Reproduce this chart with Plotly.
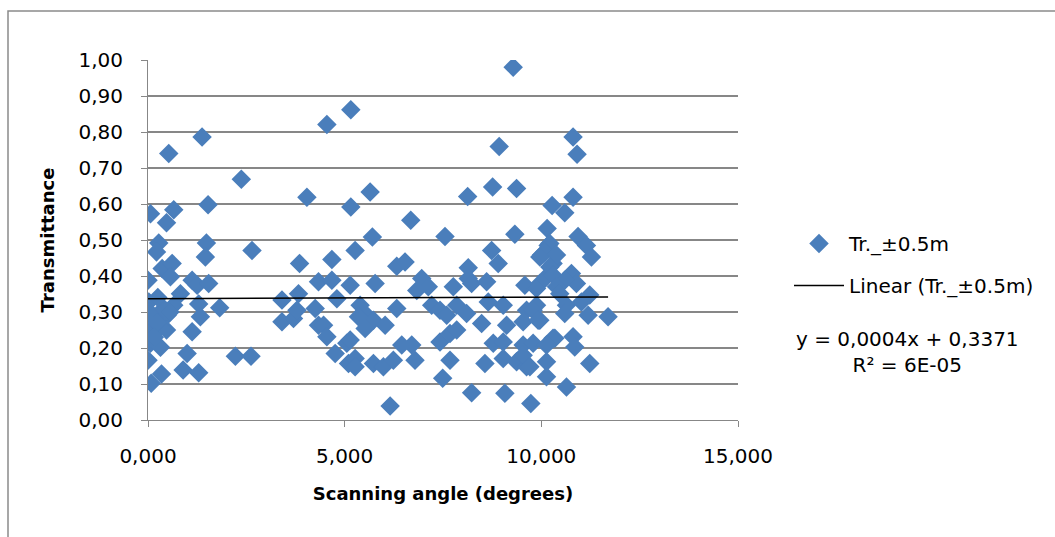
import plotly.graph_objects as go

# Scanning angle (degrees) and measured transmittance for each sample
angle_deg = [
    0.063, 0.528, 0.655, 0.470, 0.274, 0.216, 1.375, 1.527, 1.485, 1.459,
    2.373, 2.644, 3.853, 4.040, 4.548, 4.675, 5.157, 5.157,
    0.000, 0.360, 0.614, 0.571, 1.122, 1.249, 1.543, 0.825, 0.020, 0.655,
    1.289, 1.822, 0.148, 0.487, 1.332, 0.107, 0.470, 1.122, 0.020, 0.317,
    0.063, 0.317, 0.995, 0.000, 0.893, 1.289, 0.343, 0.081, 2.221, 2.619,
    3.406, 3.406, 3.700, 3.787, 3.827, 4.251, 4.335, 4.675, 4.802, 4.335,
    4.463, 4.548, 4.759, 5.055, 5.097,
    0.040, 0.400, 0.230, 0.160, 0.560, 0.250,
    9.284, 8.929, 5.647, 6.680, 8.127, 8.761, 9.370, 10.274, 5.705, 7.551,
    9.327, 10.147, 10.807, 10.909, 10.807, 10.596, 10.934,
    5.266, 6.324, 6.535, 8.142, 8.736, 8.904, 10.005, 10.172, 10.299,
    5.140, 5.774, 6.959, 7.127, 6.832, 7.762, 8.142, 8.228, 8.609, 9.581,
    9.962, 10.132,
    5.393, 5.477, 6.324, 7.213, 7.424, 7.594, 7.848, 8.101, 8.650, 9.031,
    9.624, 9.878,
    5.731, 6.028, 8.482, 9.117, 9.538, 9.962,
    5.140, 5.520, 6.452, 6.705, 7.424, 7.678, 7.848, 8.777, 9.031, 9.538,
    9.792, 10.299,
    5.266, 5.266, 5.731, 5.985, 6.239, 6.789, 7.678, 8.566, 9.031, 9.370,
    9.624, 10.132, 10.132, 7.492, 6.155, 8.228, 9.073, 9.733, 5.351,
    11.147, 11.274, 10.215, 10.089, 10.385, 9.962, 10.215, 10.299, 10.766,
    10.893, 10.596, 10.385, 9.878, 10.469, 11.231, 11.020, 10.639, 10.596,
    11.189, 11.697, 9.792, 9.919, 10.343, 10.807, 10.850, 10.132, 9.538,
    9.708, 11.231, 10.639,
]
transmittance = [
    0.573, 0.740, 0.584, 0.548, 0.492, 0.467, 0.786, 0.598, 0.492, 0.453,
    0.669, 0.471, 0.435, 0.619, 0.821, 0.446, 0.862, 0.592,
    0.388, 0.421, 0.435, 0.398, 0.388, 0.374, 0.379, 0.351, 0.328, 0.319,
    0.322, 0.312, 0.287, 0.291, 0.287, 0.263, 0.250, 0.245, 0.240, 0.259,
    0.213, 0.202, 0.185, 0.166, 0.139, 0.131, 0.128, 0.102, 0.177, 0.177,
    0.333, 0.273, 0.282, 0.305, 0.351, 0.310, 0.384, 0.388, 0.337, 0.263,
    0.263, 0.231, 0.185, 0.213, 0.157,
    0.300, 0.310, 0.270, 0.230, 0.300, 0.340,
    0.980, 0.760, 0.633, 0.555, 0.621, 0.647, 0.643, 0.596, 0.508, 0.510,
    0.516, 0.532, 0.786, 0.738, 0.619, 0.576, 0.510,
    0.471, 0.427, 0.439, 0.423, 0.471, 0.435, 0.458, 0.485, 0.435,
    0.374, 0.379, 0.393, 0.370, 0.360, 0.370, 0.393, 0.379, 0.384, 0.374,
    0.379, 0.398,
    0.319, 0.300, 0.310, 0.319, 0.305, 0.291, 0.319, 0.296, 0.328, 0.319,
    0.305, 0.319,
    0.277, 0.263, 0.268, 0.263, 0.273, 0.277,
    0.222, 0.254, 0.208, 0.208, 0.217, 0.240, 0.250, 0.213, 0.217, 0.208,
    0.213, 0.227,
    0.171, 0.148, 0.157, 0.148, 0.166, 0.166, 0.166, 0.157, 0.171, 0.162,
    0.148, 0.162, 0.120, 0.116, 0.039, 0.076, 0.074, 0.046, 0.287,
    0.485, 0.453, 0.490, 0.467, 0.458, 0.453, 0.425, 0.402, 0.407,
    0.379, 0.388, 0.370, 0.365, 0.351, 0.347, 0.328, 0.319, 0.296,
    0.291, 0.287, 0.305, 0.277, 0.227, 0.231, 0.203, 0.208, 0.180,
    0.148, 0.157, 0.092,
]

# Linear trend line coefficients (y = slope * x + intercept)
trend_slope = 0.0004
trend_intercept = 0.3371
trend_r2_text = "6E-05"

x_ticks = [0, 5, 10, 15]
y_ticks = [0.0, 0.1, 0.2, 0.3, 0.4, 0.5, 0.6, 0.7, 0.8, 0.9, 1.0]

series_name = "Tr._±0.5m"
FONT = "DejaVu Sans, sans-serif"
TICK_SIZE = 20
TITLE_SIZE = 18
GRID = "#878787"
BLUE = "#4a7ebb"

x_lo, x_hi = min(angle_deg), max(angle_deg)
trend_x = [x_lo, x_hi]
trend_y = [trend_slope * v + trend_intercept for v in trend_x]

fig = go.Figure()
fig.add_trace(go.Scatter(
    x=angle_deg, y=transmittance, mode="markers", name=series_name,
    legendgroup="a",
    marker=dict(symbol="diamond", size=15, color=BLUE, line=dict(width=0)),
))
fig.add_trace(go.Scatter(
    x=trend_x, y=trend_y, mode="lines", name=f"Linear ({series_name})",
    legendgroup="b",
    line=dict(color="black", width=1.5),
))

L, R, T, B = 148, 317, 60, 117
W, H = 1055, 537
pw, ph = W - L - R, H - T - B


def px_x(p):
    return (p - L) / pw


def px_y(p):
    return (H - B - p) / ph


def fmt_dec(v, nd):
    return f"{v:.{nd}f}".replace(".", ",")


eq_text = (f"y = {fmt_dec(trend_slope, 4)}x + {fmt_dec(trend_intercept, 4)}"
           f"<br>R² = {trend_r2_text}")

fig.update_layout(
    width=W, height=H,
    margin=dict(l=L, r=R, t=T, b=B, pad=0),
    paper_bgcolor="white", plot_bgcolor="white",
    separators=", ",
    font=dict(family=FONT, size=TICK_SIZE, color="black"),
    showlegend=True,
    legend=dict(
        x=px_x(789), y=px_y(224), xanchor="left", yanchor="top",
        font=dict(family=FONT, size=TICK_SIZE, color="black"),
        tracegroupgap=13, itemwidth=50,
        bgcolor="rgba(0,0,0,0)",
    ),
    xaxis=dict(
        range=[0, 15], tickvals=x_ticks, tickformat=".3f",
        showgrid=False, zeroline=False,
        showline=True, linecolor=GRID, linewidth=1,
        ticks="outside", ticklen=6, tickcolor=GRID,
        ticklabelstandoff=12,
        tickfont=dict(family=FONT, size=TICK_SIZE),
        title=dict(text="<b>Scanning angle (degrees)</b>",
                   font=dict(family=FONT, size=TITLE_SIZE), standoff=20),
    ),
    yaxis=dict(
        range=[0, 1], tickvals=y_ticks, tickformat=".2f",
        showgrid=True, gridcolor=GRID, gridwidth=1.5,
        zeroline=False,
        showline=True, linecolor=GRID, linewidth=1,
        ticks="outside", ticklen=6, tickcolor=GRID,
        ticklabelstandoff=14,
        tickfont=dict(family=FONT, size=TICK_SIZE),
        title=dict(text="<b>Transmittance</b>",
                   font=dict(family=FONT, size=TITLE_SIZE), standoff=19),
    ),
    shapes=[dict(
        type="rect", xref="paper", yref="paper",
        x0=px_x(8), x1=px_x(1070), y0=px_y(560), y1=px_y(11),
        line=dict(color="#8a8a8a", width=1.5), fillcolor="rgba(0,0,0,0)",
        layer="below",
    )],
    annotations=[dict(
        text=eq_text, xref="paper", yref="paper",
        x=px_x(908), y=px_y(352), xanchor="center", yanchor="middle",
        showarrow=False, align="center",
        font=dict(family=FONT, size=TICK_SIZE, color="black"),
    )],
)

fig.write_html("out.html")
